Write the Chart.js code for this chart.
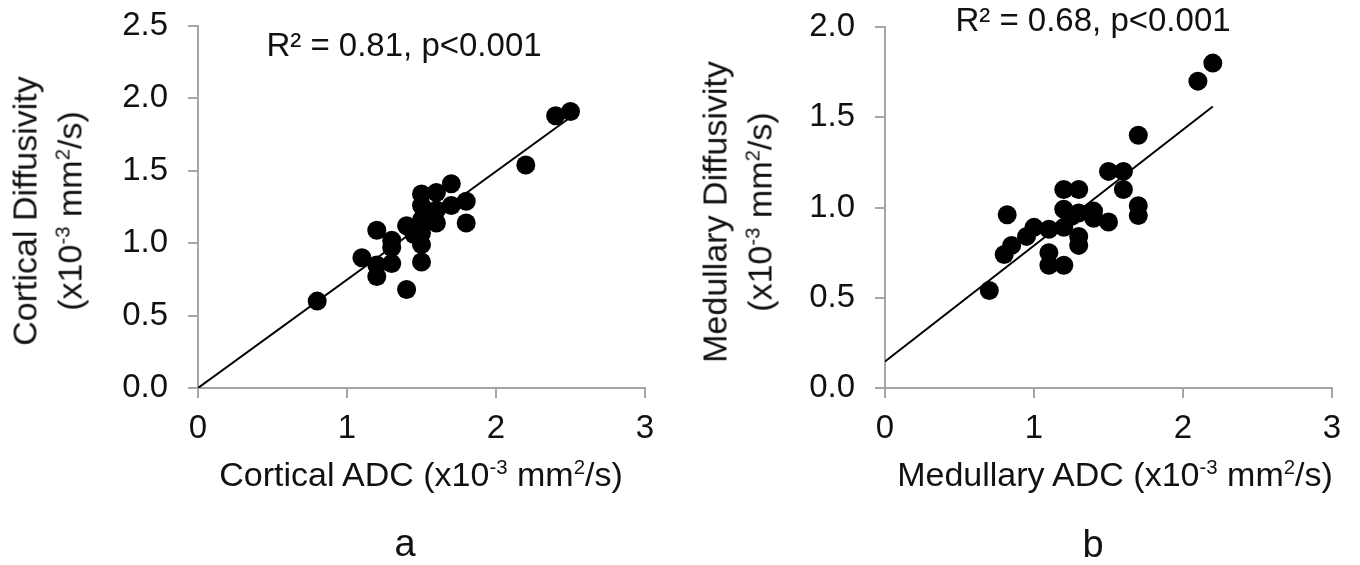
<!DOCTYPE html>
<html>
<head>
<meta charset="utf-8">
<script src="https://cdn.jsdelivr.net/npm/chart.js@4/dist/chart.umd.min.js"></script>
<style>
  body { margin: 0; background: #fff; width: 1360px; height: 565px; position: relative; overflow: hidden;
         font-family: "Liberation Sans", Arial, sans-serif; color: #111; }
  canvas { position: absolute; top: 0; }
  .note { position: absolute; font-size: 33px; line-height: 1; white-space: nowrap; transform: translate(-50%, -50%); }
  .title { position: absolute; font-size: 34px; line-height: 45px; white-space: nowrap; text-align: center; }
  .panel { position: absolute; font-size: 38px; line-height: 1; transform: translate(-50%, -50%); }
  .rot { transform: translate(-50%, -50%) rotate(-90deg); }
  .flat { transform: translate(-50%, -50%); }
  sup { font-size: 0.6em; vertical-align: 0; position: relative; top: -0.6em; }
</style>
</head>
<body>
<canvas id="chartA" width="680" height="565" style="left:0"></canvas>
<canvas id="chartB" width="670" height="565" style="left:690px"></canvas>

<div class="note" style="left:404px;top:44px">R² = 0.81, p&lt;0.001</div>
<div class="note" style="left:1093px;top:19px">R² = 0.68, p&lt;0.001</div>

<div class="title rot" style="left:50px;top:211px">Cortical Diffusivity<br>(x10<sup>-3</sup> mm<sup>2</sup>/s)</div>
<div class="title flat" style="left:421px;top:477px">Cortical ADC (x10<sup>-3</sup> mm<sup>2</sup>/s)</div>
<div class="title rot" style="left:740px;top:212px">Medullary Diffusivity<br>(x10<sup>-3</sup> mm<sup>2</sup>/s)</div>
<div class="title flat" style="left:1115px;top:477px">Medullary ADC (x10<sup>-3</sup> mm<sup>2</sup>/s)</div>

<div class="panel" style="left:405px;top:543px">a</div>
<div class="panel" style="left:1093px;top:544px">b</div>
<script>
// panel a: cortical
var corticalADC  = [0.8, 1.1, 1.2, 1.2, 1.2, 1.3, 1.3, 1.3, 1.4, 1.4, 1.45, 1.5, 1.5, 1.5, 1.5, 1.5, 1.5, 1.55, 1.6, 1.6, 1.6, 1.7, 1.7, 1.8, 1.8, 2.2, 2.4, 2.5];
var corticalDiff = [0.6, 0.9, 1.09, 0.85, 0.77, 1.02, 0.97, 0.86, 0.68, 1.12, 1.06, 1.34, 1.26, 1.16, 1.07, 0.99, 0.87, 1.2, 1.35, 1.23, 1.14, 1.41, 1.26, 1.29, 1.14, 1.54, 1.88, 1.91];
var corticalFit  = [[0, 0], [2.5, 1.87]];

// panel b: medullary
var medullaryADC  = [0.7, 0.82, 0.8, 0.85, 0.95, 1.0, 1.1, 1.1, 1.1, 1.2, 1.2, 1.2, 1.2, 1.25, 1.3, 1.3, 1.3, 1.3, 1.4, 1.4, 1.5, 1.5, 1.6, 1.6, 1.7, 1.7, 1.7, 2.1, 2.2];
var medullaryDiff = [0.54, 0.96, 0.74, 0.79, 0.84, 0.89, 0.88, 0.75, 0.68, 1.1, 0.99, 0.89, 0.68, 0.95, 1.1, 0.97, 0.84, 0.79, 0.98, 0.94, 0.92, 1.2, 1.2, 1.1, 1.4, 1.01, 0.955, 1.7, 1.8];
var medullaryFit  = [[0, 0.147], [2.2, 1.56]];

var xTicks = [0, 1, 2, 3];
var yTicksA = [0, 0.5, 1.0, 1.5, 2.0, 2.5];
var yTicksB = [0, 0.5, 1.0, 1.5, 2.0];

Chart.defaults.font.family = '"Liberation Sans", Arial, sans-serif';
var textColor = '#111';
var axisColor = '#a6a6a6';

function toPoints(xs, ys) {
    return xs.map(function (x, i) { return { x: x, y: ys[i] }; });
}

function makeChart(id, xs, ys, fit, yTicks, yWidth, padTop, padRight) {
    return new Chart(document.getElementById(id), {
        type: 'scatter',
        data: {
            datasets: [{
                data: toPoints(xs, ys),
                backgroundColor: '#000',
                borderWidth: 0,
                pointRadius: 9.5,
                order: 1
            }, {
                type: 'line',
                data: fit.map(function (p) { return { x: p[0], y: p[1] }; }),
                borderColor: '#000',
                borderWidth: 2,
                pointRadius: 0,
                order: 2
            }]
        },
        options: {
            responsive: false,
            animation: false,
            layout: { padding: { top: padTop, right: padRight, left: 0, bottom: 0 } },
            plugins: { legend: { display: false }, tooltip: { enabled: false } },
            scales: {
                x: {
                    type: 'linear',
                    min: xTicks[0],
                    max: xTicks[xTicks.length - 1],
                    afterBuildTicks: function (s) { s.ticks = xTicks.map(function (v) { return { value: v }; }); },
                    ticks: { color: textColor, font: { size: 33 }, padding: 11 },
                    grid: { drawOnChartArea: false, tickLength: 10, color: axisColor, lineWidth: 2 },
                    border: { color: axisColor, width: 2 },
                    afterFit: function (s) { s.height = 177; }
                },
                y: {
                    min: yTicks[0],
                    max: yTicks[yTicks.length - 1],
                    afterBuildTicks: function (s) { s.ticks = yTicks.map(function (v) { return { value: v }; }); },
                    ticks: { color: textColor, font: { size: 33 }, padding: 20,
                             callback: function (v) { return Number(v).toFixed(1); } },
                    grid: { drawOnChartArea: false, tickLength: 10, color: axisColor, lineWidth: 2 },
                    border: { color: axisColor, width: 2 },
                    afterFit: function (s) { s.width = yWidth; s.paddingTop = 0; s.paddingBottom = 0; }
                }
            }
        }
    });
}

makeChart('chartA', corticalADC, corticalDiff, corticalFit, yTicksA, 198, 26, 35);
makeChart('chartB', medullaryADC, medullaryDiff, medullaryFit, yTicksB, 195, 27, 28);
</script>
</body>
</html>
